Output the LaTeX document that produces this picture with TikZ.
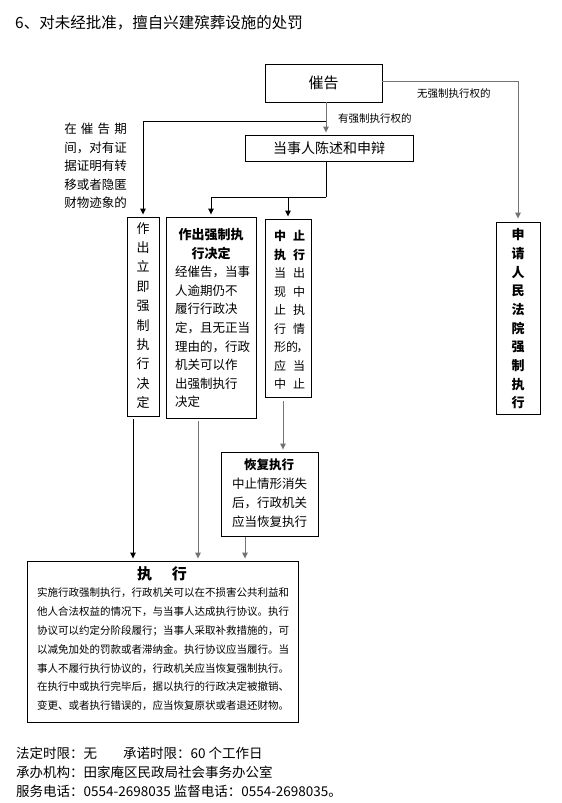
\documentclass[tikz,border=0pt]{standalone}
\usepackage{fontspec}
\setmainfont{Noto Sans CJK SC}
\usetikzlibrary{arrows.meta}
\definecolor{lg}{RGB}{115,115,115}
\newcommand{\fs}[2]{\fontsize{#1pt}{#2pt}\selectfont}
\begin{document}
\begin{tikzpicture}[x=1pt,y=-1pt]
\tikzset{
 bx/.style={draw, line width=0.9pt, inner sep=0pt},
 bl/.style={line width=0.9pt},
 barr/.style={line width=0.9pt, -{Triangle[width=5.5pt,length=6pt]}, shorten >=2pt},
 garr/.style={barr, draw=lg},
 txt/.style={inner sep=0pt, align=left},
 txtc/.style={inner sep=0pt, align=center},
}
\useasboundingbox[fill=white] (0,0) rectangle (562,803);

% title
\node[txt, anchor=west, font=\fs{15.5}{19}] (title) at (15,23) {6、对未经批准，擅自兴建殡葬设施的处罚};

% boxes
\node[bx, minimum width=117pt, minimum height=38pt, font=\fs{15}{18}] (cuigao) at (323.5,83) {催告};
\node[bx, minimum width=168pt, minimum height=26pt, font=\fs{14}{17}] (chenshu) at (329,148) {当事人陈述和申辩};
\node[bx, minimum width=32pt, minimum height=199pt] (liji) at (143,316.5) {};
\node[bx, minimum width=90pt, minimum height=201pt] (zuochu) at (211,317.5) {};
\node[bx, minimum width=46pt, minimum height=178pt] (zhongzhi) at (288,308) {};
\node[bx, minimum width=44pt, minimum height=192pt] (shenqing) at (518,318) {};
\node[bx, minimum width=97pt, minimum height=84pt] (huifu) at (269.5,494) {};
\node[bx, minimum width=271pt, minimum height=161pt] (zhixing) at (162.5,641.5) {};

% left annotation
\node[inner sep=0pt, align=right, anchor=east, font=\fs{12.5}{18.5}] (note) at (127,166)
 {\makebox[5em][s]{在\hfill 催\hfill 告\hfill 期}\\间，对有证\\据证明有转\\移或者隐匿\\财物迹象的};

% edge labels
\node[txt, anchor=west, font=\fs{10.5}{12}] (lab1) at (417,94) {无强制执行权的};
\node[txt, anchor=west, font=\fs{10.5}{12}] (lab2) at (338,119) {有强制执行权的};

% texts in boxes
\node[txtc, font=\fs{13}{19.4}] (lijitxt) at (143,315.5)
 {作\\出\\立\\即\\强\\制\\执\\行\\决\\定};
\node[txtc, font=\bfseries\fs{13}{18.5}] (zuochut) at (211,244) {作出强制执\\行决定};
\node[txt, anchor=west, font=\fs{12.5}{18.6}] (zuochub) at (175,337)
 {经催告，当事\\人逾期仍不\\履行行政决\\定，且无正当\\理由的，行政\\机关可以作\\出强制执行\\决定};
\node[txt, anchor=west, font=\fs{12}{18.5}] (zhongzhitxt) at (274,310)
 {\textbf{中\hspace{7pt}止}\\\textbf{执\hspace{7pt}行}\\当\hspace{7pt}出\\现\hspace{7pt}中\\止\hspace{7pt}执\\行\hspace{7pt}情\\形的\kern-1.5pt，\\应\hspace{7pt}当\\中\hspace{7pt}止};
\node[txtc, font=\bfseries\fs{13}{18.67}] (shenqingtxt) at (518,319)
 {申\\请\\人\\民\\法\\院\\强\\制\\执\\行};
\node[txtc, font=\bfseries\fs{12.5}{15}] (huifut) at (269,465) {恢复执行};
\node[txt, anchor=west, font=\fs{12.5}{19}] (huifub) at (232,503)
 {中止情形消失\\后，行政机关\\应当恢复执行};
\node[txtc, font=\bfseries\fs{15}{18}] (zhixingt) at (162,574) {执\hspace{20pt}行};
\node[txt, anchor=west, font=\fs{10.5}{18.8}] (zhixingb) at (37,649.5)
 {实施行政强制执行，行政机关可以在不损害公共利益和\\
  他人合法权益的情况下，与当事人达成执行协议。执行\\
  协议可以约定分阶段履行；当事人采取补救措施的，可\\
  以减免加处的罚款或者滞纳金。执行协议应当履行。当\\
  事人不履行执行协议的，行政机关应当恢复强制执行。\\
  在执行中或执行完毕后，据以执行的行政决定被撤销、\\
  变更、或者执行错误的，应当恢复原状或者退还财物。};

% footer
\node[txt, anchor=west, font=\fs{13.5}{19}] (f1) at (16,753) {法定时限：无\hspace{26pt}承诺时限：60 个工作日};
\node[txt, anchor=west, font=\fs{13.5}{19}] (f2) at (16,772) {承办机构：田家庵区民政局社会事务办公室};
\node[txt, anchor=west, font=\fs{13.5}{19}] (f3) at (16,791) {服务电话：0554-2698035 监督电话：0554-2698035。};

% connectors
\coordinate (c1) at (326,121);
\coordinate (c2) at (326,197);
\draw[garr, shorten >=3pt] ([yshift=2pt]cuigao.east) -| (shenqing.north);
\draw[garr] (cuigao.south -| c1) -- (chenshu.north -| c1);
\draw[barr] (c1) -| (liji.north);
\draw[bl] (chenshu.south -| c2) -- (c2);
\draw[barr] (c2) -| (zuochu.north);
\draw[barr] (c2 -| zhongzhi.north) -- (zhongzhi.north);
\draw[barr, shorten <=3pt] ([xshift=-10pt]liji.south) -- ([xshift=-10pt]liji.south |- zhixing.north);
\draw[garr, shorten <=3pt] ([xshift=-13pt]zuochu.south) -- ([xshift=-13pt]zuochu.south |- zhixing.north);
\draw[garr, shorten <=4pt] ([xshift=-5pt]zhongzhi.south) -- ([xshift=-5pt]zhongzhi.south |- huifu.north);
\draw[garr, shorten <=1pt] ([xshift=-24.5pt]huifu.south) -- ([xshift=-24.5pt]huifu.south |- zhixing.north);
\end{tikzpicture}
\end{document}
